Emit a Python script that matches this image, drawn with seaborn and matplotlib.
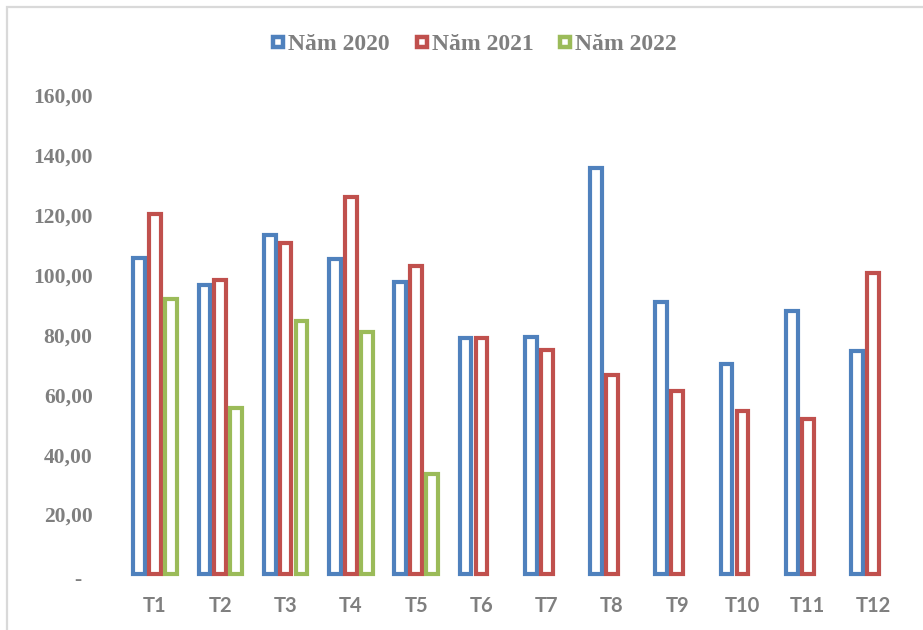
import numpy as np
import pandas as pd
import seaborn as sns
import matplotlib.pyplot as plt
import matplotlib.transforms as mtransforms
from matplotlib.lines import Line2D
from matplotlib.patches import Rectangle

# Monthly values per year
months = ["T1", "T2", "T3", "T4", "T5", "T6", "T7", "T8", "T9", "T10", "T11", "T12"]
nam_2020 = [105.5, 96.5, 113.4, 105.2, 97.8, 78.8, 79.3, 135.6, 91.0, 70.4, 88.0, 74.6]
nam_2021 = [120.5, 98.2, 110.7, 126.1, 103.0, 78.8, 75.1, 66.6, 61.1, 54.6, 51.9, 100.8]
nam_2022 = [92.0, 55.4, 84.6, 80.8, 33.5, np.nan, np.nan, np.nan, np.nan, np.nan, np.nan, np.nan]

series_labels = ["Năm 2020", "Năm 2021", "Năm 2022"]
series_colors = ["#4f81bd", "#c0504d", "#9bbb59"]

y_ticks = [0, 20, 40, 60, 80, 100, 120, 140, 160]
y_tick_labels = ["-", "20,00", "40,00", "60,00", "80,00", "100,00", "120,00", "140,00", "160,00"]

df = pd.DataFrame({
    "month": months * 3,
    "year": [series_labels[0]] * 12 + [series_labels[1]] * 12 + [series_labels[2]] * 12,
    "value": nam_2020 + nam_2021 + nam_2022,
})

sns.set_style("white")
text_gray = "#7f7f7f"
serif_bold = dict(family=["Liberation Serif", "DejaVu Serif"], weight="bold")

fig = plt.figure(figsize=(9.23, 6.3), dpi=100)
ax = fig.add_axes([0.1326, 0.0883, 0.8486, 0.7604])

sns.barplot(
    data=df, x="month", y="value", hue="year",
    order=months, hue_order=series_labels, palette=series_colors,
    fill=False, saturation=1, width=0.73, gap=0.26, linewidth=3.0,
    errorbar=None, legend=False, ax=ax,
)
for p in ax.patches:
    p.set_clip_on(False)
    p.set_joinstyle("miter")

ax.set_ylim(0, 160)
ax.set_xlim(-0.5, len(months) - 0.5)
ax.set_xlabel("")
ax.set_ylabel("")
for s in ax.spines.values():
    s.set_visible(False)
ax.grid(False)

ax.set_yticks(y_ticks)
ax.set_yticklabels(y_tick_labels, fontsize=15.5, color=text_gray, **serif_bold)
ax.tick_params(axis="y", length=0, pad=21.4)
ax.tick_params(axis="x", length=0, pad=15.5)
for lbl in ax.get_xticklabels():
    lbl.set_fontfamily(["Lato", "DejaVu Sans"])
    lbl.set_fontweight("bold")
    lbl.set_fontsize(14.5)
    lbl.set_color(text_gray)

# Zero label sits a little left of the numeric labels
zero_lbl = ax.get_yticklabels()[0]
zero_lbl.set_transform(zero_lbl.get_transform()
                       + mtransforms.ScaledTranslation(-8 / 72, -2 / 72, fig.dpi_scale_trans))

handles = [
    Line2D([0], [0], linestyle="none", marker="s", markersize=7,
           markerfacecolor="white", markeredgecolor=c, markeredgewidth=3.2)
    for c in series_colors
]
leg = fig.legend(
    handles, series_labels, loc="center", bbox_to_anchor=(474 / 923, 1 - 44 / 630),
    ncol=3, frameon=False, handlelength=0.6, handletextpad=0.12, columnspacing=1.05,
    prop=dict(size=17, **serif_bold),
)
for t in leg.get_texts():
    t.set_color(text_gray)

# Chart frame
fig.add_artist(Rectangle((7 / 923, -0.05), 1.2, 1.05 - 7 / 630, transform=fig.transFigure,
                         fill=False, edgecolor="#d9d9d9", linewidth=1.6))

fig.savefig("out.png", dpi=100)
